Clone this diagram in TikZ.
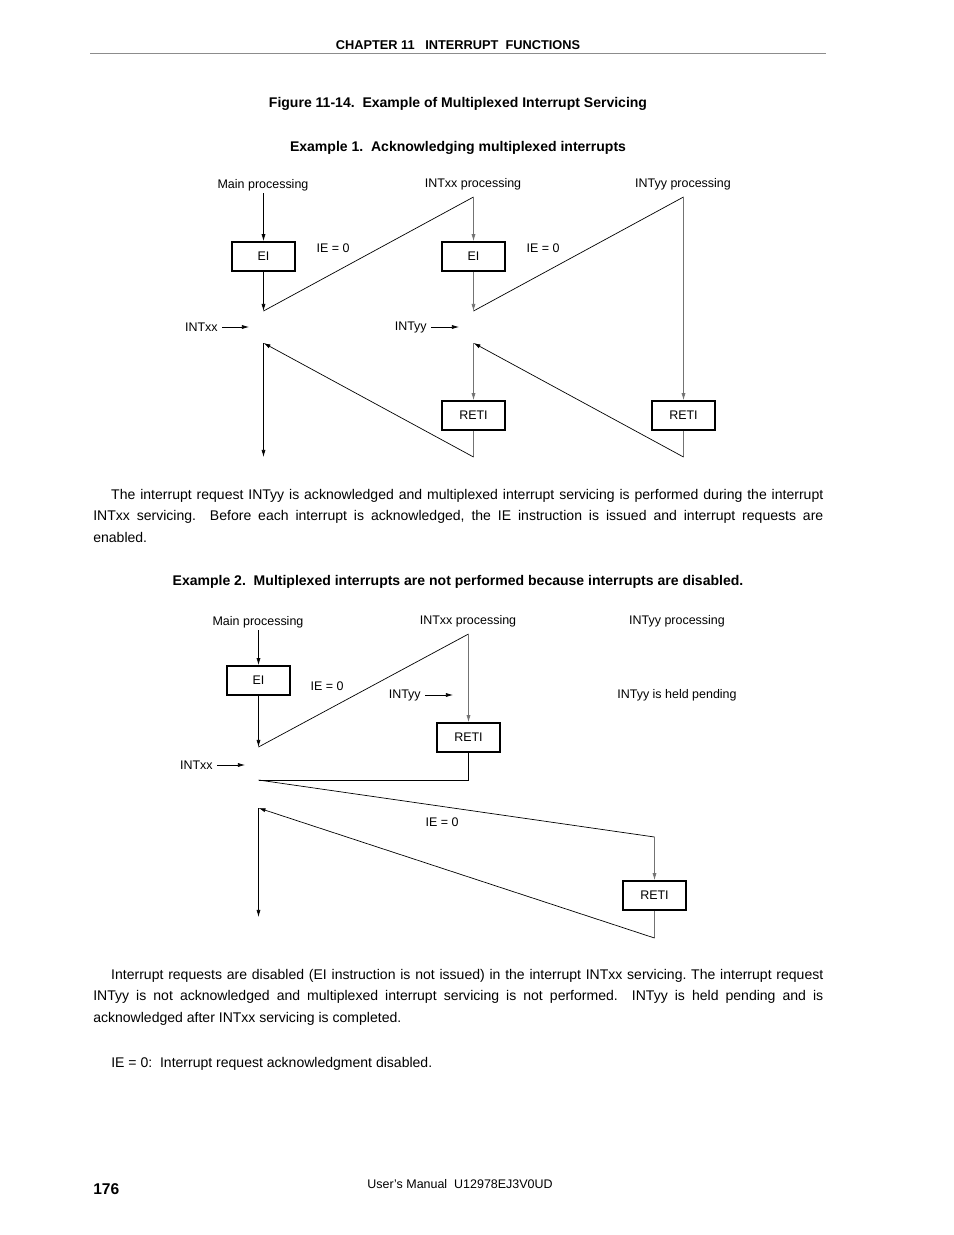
\documentclass[tikz,border=0pt]{standalone}
\usepackage{fontspec}
\setmainfont{Liberation Sans}
\usetikzlibrary{arrows.meta}
\frenchspacing
\begin{document}
\begin{tikzpicture}[x=0.6415pt,y=-0.6415pt,
  lbl/.style={font=\fontsize{8}{9.6}\selectfont, inner sep=0pt},
  head/.style={font=\bfseries\fontsize{9}{11}\selectfont, inner sep=0pt},
  para/.style={font=\fontsize{9}{13.8}\selectfont, inner sep=0pt, text width=468.3pt, align=justify, anchor=base west},
  box/.style={draw, line width=1.1pt, minimum width=40.4pt, minimum height=18.6pt, inner sep=0pt, font=\fontsize{8}{9.6}\selectfont},
  thin/.style={line width=0.45pt},
  arr/.style={thin, -{Latex[length=4.5pt,width=2.6pt]}},
  gl/.style={draw=black!55},
]
\useasboundingbox (0,0) rectangle (954,1235);

% header
\node[font=\bfseries\fontsize{8.2}{10}\selectfont, inner sep=0pt] (chap) at (458,45) {CHAPTER 11\ \ \ INTERRUPT\ \ FUNCTIONS};
\coordinate (ruleL) at (90,53);
\coordinate (ruleR) at (826,53);
\draw[black!45, line width=0.6pt] (ruleL) -- (ruleR);

\node[head] (fig) at (458,104) {Figure 11-14.\ \ Example of Multiplexed Interrupt Servicing};
\node[head] (ex1) at (458,148) {Example 1.\ \ Acknowledging multiplexed interrupts};

% ---------- Example 1 ----------
\node[lbl] (mp1) at (263,185) {Main processing};
\node[lbl] (xp1) at (473,184) {INTxx processing};
\node[lbl] (yp1) at (683,184) {INTyy processing};

\node[box] (ei1) at (263.5,256.5) {EI};
\node[box] (ei2) at (473.5,256.5) {EI};
\node[box] (reti1) at (473.5,415.5) {RETI};
\node[box] (reti2) at (683.5,415.5) {RETI};

\node[lbl] (ie1a) at (333,248) {IE = 0};
\node[lbl] (ie1b) at (543,248) {IE = 0};

\node[lbl, anchor=east] (intxx1) at (218,327) {INTxx};
\node[lbl, anchor=east] (intyy1) at (427,327) {INTyy};
\coordinate (intxx1e) at (249,327);
\coordinate (intyy1e) at (459,327);
\draw[arr] ([xshift=2.6pt]intxx1.east) -- (intxx1e);
\draw[arr] ([xshift=2.6pt]intyy1.east) -- (intyy1e);

\coordinate (m1top) at (263.5,193);
\coordinate (m1a) at (263.5,311);
\coordinate (m1b) at (263.5,343);
\coordinate (m1end) at (263.5,457);
\coordinate (x1top) at (473.5,197);
\coordinate (x1a) at (473.5,311);
\coordinate (x1b) at (473.5,343);
\coordinate (x1bot) at (473.5,457);
\coordinate (y1top) at (683.5,197);
\coordinate (y1bot) at (683.5,457);

\draw[arr] (m1top) -- (ei1);
\draw[arr] (ei1) -- (m1a);
\draw[thin] (m1a) -- (x1top);
\draw[arr,gl] (x1top) -- (ei2);
\draw[arr,gl] (ei2) -- (x1a);
\draw[thin] (x1a) -- (y1top);
\draw[arr,gl] (y1top) -- (reti2);
\draw[thin,gl] (reti2) -- (y1bot);
\draw[arr] (y1bot) -- (x1b);
\draw[arr,gl] (x1b) -- (reti1);
\draw[thin,gl] (reti1) -- (x1bot);
\draw[arr] (x1bot) -- (m1b);
\draw[arr] (m1b) -- (m1end);

\node[para] (p1) at (93,499) {\hspace*{11.5pt}The interrupt request INTyy is acknowledged and multiplexed interrupt servicing is performed during the interrupt\linebreak INTxx servicing.\ \ Before each interrupt is acknowledged, the IE instruction is issued and interrupt requests are\linebreak enabled.};

% ---------- Example 2 ----------
\node[head] (ex2) at (458,582) {Example 2.\ \ Multiplexed interrupts are not performed because interrupts are disabled.};

\node[lbl] (mp2) at (258,622) {Main processing};
\node[lbl] (xp2) at (468,621) {INTxx processing};
\node[lbl] (yp2) at (677,621) {INTyy processing};
\node[lbl] (pend) at (677,695) {INTyy is held pending};

\node[box] (ei3) at (258.5,680.5) {EI};
\node[box] (reti3) at (468.5,737.5) {RETI};
\node[box] (reti4) at (654.5,895.5) {RETI};

\node[lbl] (ie2a) at (327,686) {IE = 0};
\node[lbl] (ie2b) at (442,822) {IE = 0};

\node[lbl, anchor=east] (intyy2) at (421,695) {INTyy};
\node[lbl, anchor=east] (intxx2) at (213,765) {INTxx};
\coordinate (intyy2e) at (453,695);
\coordinate (intxx2e) at (245,765);
\draw[arr] ([xshift=2.6pt]intyy2.east) -- (intyy2e);
\draw[arr] ([xshift=2.6pt]intxx2.east) -- (intxx2e);

\coordinate (m2top) at (258.5,630);
\coordinate (m2a) at (258.5,747);
\coordinate (m2b) at (258.5,780);
\coordinate (m2c) at (258.5,808);
\coordinate (m2end) at (258.5,917);
\coordinate (x2top) at (468.5,634);
\coordinate (x2bot) at (468.5,780);
\coordinate (y2top) at (654.5,837);
\coordinate (y2bot) at (654.5,938);

\draw[arr] (m2top) -- (ei3);
\draw[arr] (ei3) -- (m2a);
\draw[thin] (m2a) -- (x2top);
\draw[arr,gl] (x2top) -- (reti3);
\draw[line width=0.6pt] (reti3) -- (x2bot) -- (m2b);
\draw[thin] (m2b) -- (y2top);
\draw[arr,gl] (y2top) -- (reti4);
\draw[thin,gl] (reti4) -- (y2bot);
\draw[arr] (y2bot) -- (m2c);
\draw[arr] (m2c) -- (m2end);

\node[para] (p2) at (93,979) {\hspace*{11.5pt}Interrupt requests are disabled (EI instruction is not issued) in the interrupt INTxx servicing. The interrupt request\linebreak INTyy is not acknowledged and multiplexed interrupt servicing is not performed.\ \ INTyy is held pending and is\linebreak acknowledged after INTxx servicing is completed.};

\node[font=\fontsize{9}{11}\selectfont, inner sep=0pt, anchor=base west] (note) at (111,1067) {IE = 0:\ \ Interrupt request acknowledgment disabled.};

% footer
\node[font=\bfseries\fontsize{10}{12}\selectfont, inner sep=0pt, anchor=base west] (pg) at (93,1194) {176};
\node[font=\fontsize{8}{10}\selectfont, inner sep=0pt] (man) at (460,1184) {User's Manual\ \ U12978EJ3V0UD};
\end{tikzpicture}
\end{document}
